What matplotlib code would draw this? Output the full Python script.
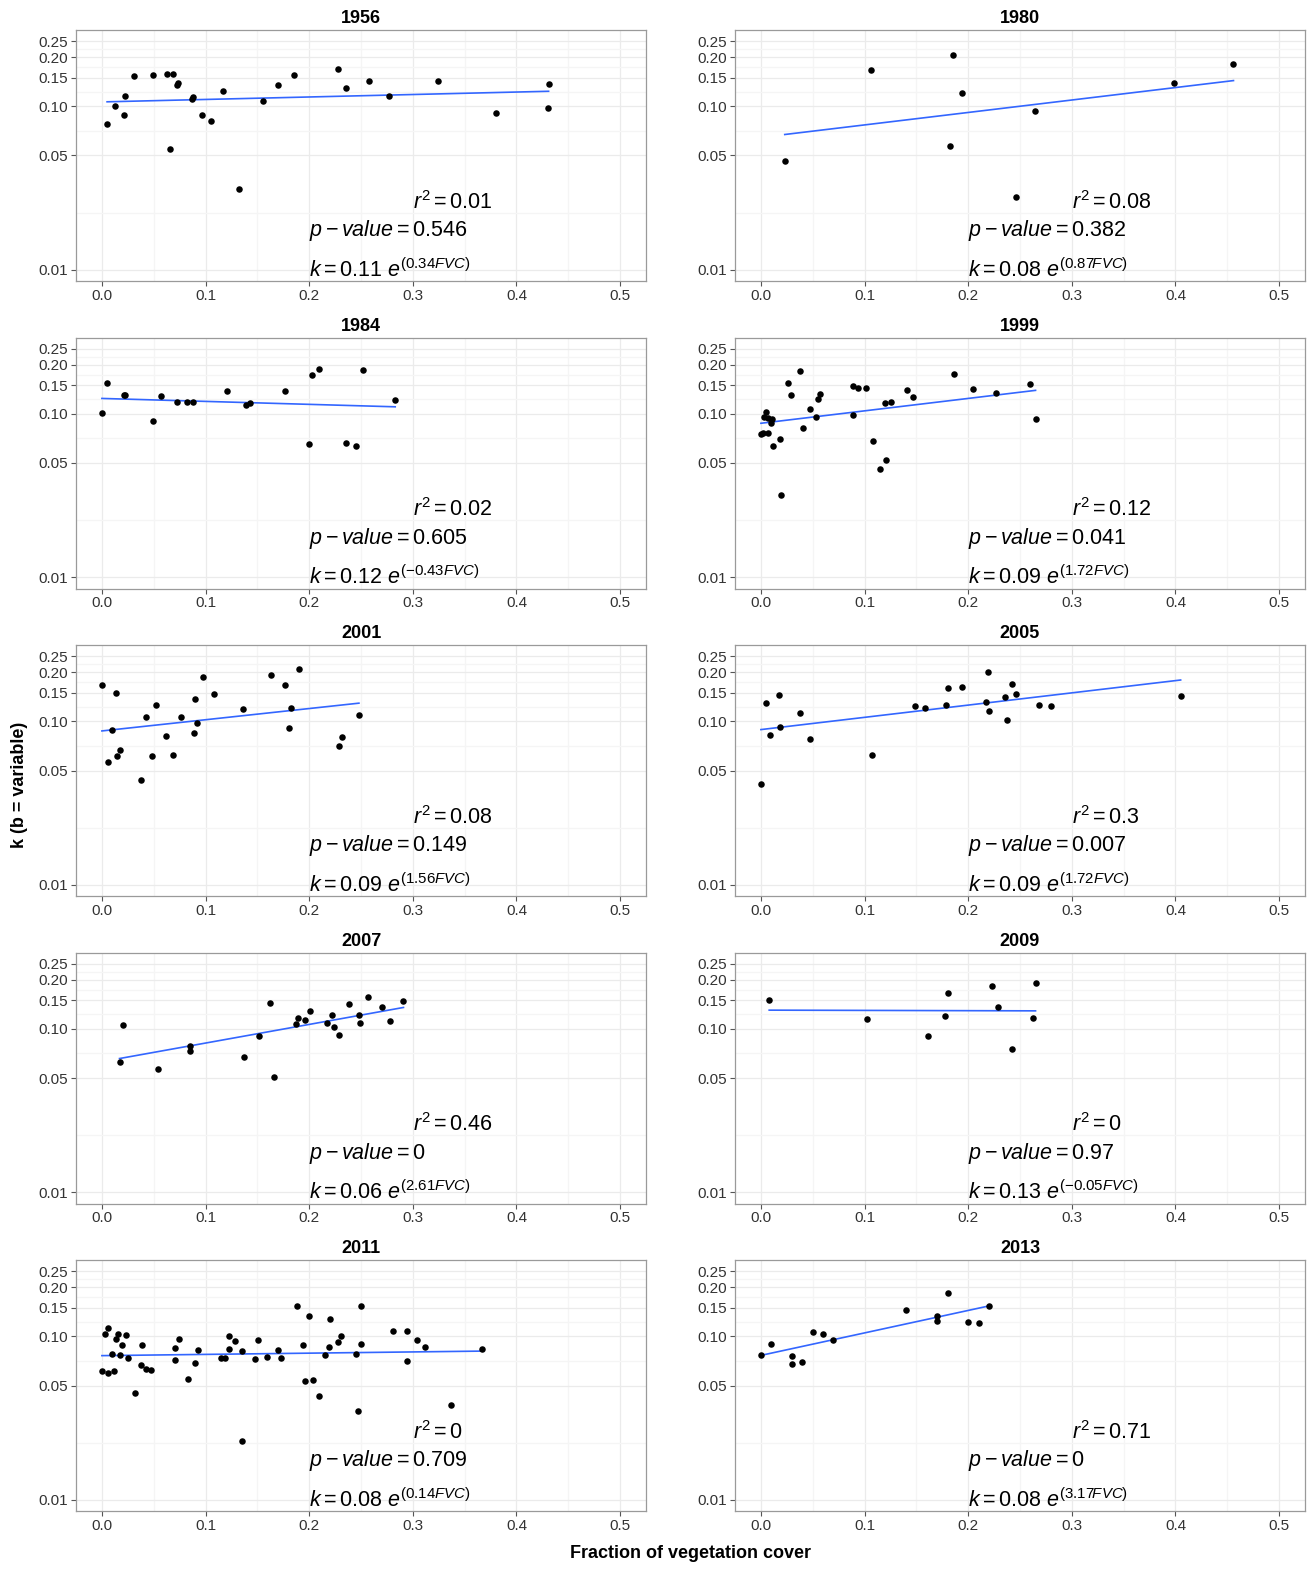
import numpy as np
import matplotlib
matplotlib.use("Agg")
import matplotlib.pyplot as plt
from matplotlib.ticker import FixedLocator, NullFormatter

plt.rcParams["font.family"] = ["Liberation Sans", "DejaVu Sans"]
plt.rcParams["mathtext.fontset"] = "custom"
plt.rcParams["mathtext.rm"] = "Liberation Sans"
plt.rcParams["mathtext.it"] = "Liberation Sans:italic"
plt.rcParams["mathtext.bf"] = "Liberation Sans:bold"

# ---- data ----
years = ["1956", "1980", "1984", "1999", "2001", "2005", "2007", "2009", "2011", "2013"]

fvc_1956 = [0.005, 0.013, 0.021, 0.022, 0.031, 0.049, 0.063, 0.066, 0.069, 0.072, 0.073, 0.087, 0.088,
            0.097, 0.105, 0.117, 0.132, 0.155, 0.170, 0.185, 0.228, 0.236, 0.258, 0.277, 0.324, 0.380,
            0.430, 0.431]
k_1956 = [0.078, 0.100, 0.088, 0.116, 0.153, 0.156, 0.157, 0.055, 0.157, 0.136, 0.139, 0.111, 0.114,
          0.088, 0.081, 0.125, 0.031, 0.108, 0.135, 0.155, 0.169, 0.130, 0.144, 0.116, 0.143, 0.091,
          0.098, 0.138]

fvc_1980 = [0.023, 0.106, 0.182, 0.185, 0.194, 0.246, 0.264, 0.399, 0.456]
k_1980 = [0.046, 0.167, 0.057, 0.205, 0.120, 0.028, 0.094, 0.139, 0.183]

fvc_1984 = [0.000, 0.0045, 0.021, 0.022, 0.049, 0.057, 0.072, 0.082, 0.088, 0.121, 0.139, 0.143,
            0.177, 0.200, 0.203, 0.209, 0.236, 0.245, 0.252, 0.283]
k_1984 = [0.101, 0.154, 0.131, 0.131, 0.090, 0.128, 0.119, 0.119, 0.119, 0.139, 0.114, 0.116,
          0.138, 0.065, 0.172, 0.187, 0.066, 0.064, 0.185, 0.122]

fvc_1999 = [0.000, 0.002, 0.007, 0.003, 0.005, 0.007, 0.010, 0.011, 0.012, 0.018, 0.019, 0.026,
            0.029, 0.038, 0.041, 0.047, 0.053, 0.055, 0.057, 0.089, 0.089, 0.094, 0.101, 0.108,
            0.115, 0.120, 0.121, 0.126, 0.141, 0.147, 0.186, 0.205, 0.227, 0.260, 0.265]
k_1999 = [0.075, 0.076, 0.076, 0.096, 0.103, 0.094, 0.088, 0.093, 0.064, 0.070, 0.032, 0.155,
          0.131, 0.182, 0.082, 0.107, 0.096, 0.124, 0.132, 0.148, 0.098, 0.144, 0.144, 0.068,
          0.046, 0.116, 0.052, 0.119, 0.140, 0.126, 0.176, 0.142, 0.135, 0.153, 0.093]

fvc_2001 = [0.000, 0.006, 0.010, 0.014, 0.015, 0.017, 0.038, 0.043, 0.048, 0.052, 0.062, 0.069,
            0.076, 0.089, 0.090, 0.092, 0.098, 0.108, 0.136, 0.163, 0.177, 0.181, 0.182, 0.190,
            0.229, 0.232, 0.248]
k_2001 = [0.167, 0.056, 0.089, 0.150, 0.061, 0.067, 0.044, 0.107, 0.061, 0.126, 0.081, 0.062,
          0.107, 0.085, 0.138, 0.098, 0.188, 0.148, 0.119, 0.193, 0.167, 0.091, 0.121, 0.210,
          0.071, 0.080, 0.110]

fvc_2005 = [0.000, 0.0045, 0.009, 0.017, 0.018, 0.038, 0.047, 0.107, 0.149, 0.158, 0.179, 0.181,
            0.194, 0.217, 0.219, 0.220, 0.236, 0.237, 0.242, 0.246, 0.268, 0.280, 0.405]
k_2005 = [0.0415, 0.129, 0.083, 0.146, 0.093, 0.112, 0.078, 0.062, 0.125, 0.120, 0.126, 0.159,
          0.163, 0.131, 0.200, 0.116, 0.141, 0.102, 0.170, 0.148, 0.126, 0.124, 0.143]

fvc_2007 = [0.017, 0.020, 0.054, 0.085, 0.085, 0.137, 0.152, 0.162, 0.166, 0.187, 0.189, 0.196,
            0.201, 0.217, 0.222, 0.224, 0.229, 0.238, 0.248, 0.249, 0.257, 0.270, 0.278, 0.291]
k_2007 = [0.063, 0.106, 0.057, 0.079, 0.073, 0.067, 0.091, 0.144, 0.051, 0.107, 0.116, 0.113,
          0.129, 0.109, 0.122, 0.102, 0.092, 0.143, 0.122, 0.108, 0.157, 0.136, 0.111, 0.148]

fvc_2009 = [0.008, 0.102, 0.161, 0.178, 0.181, 0.223, 0.229, 0.242, 0.263, 0.265]
k_2009 = [0.151, 0.115, 0.091, 0.120, 0.166, 0.183, 0.136, 0.075, 0.116, 0.192]

fvc_2011 = [0.000, 0.003, 0.006, 0.006, 0.010, 0.012, 0.014, 0.016, 0.017, 0.019, 0.023, 0.025,
            0.032, 0.038, 0.039, 0.043, 0.047, 0.071, 0.071, 0.074, 0.083, 0.090, 0.093, 0.115,
            0.119, 0.123, 0.123, 0.128, 0.135, 0.135, 0.148, 0.151, 0.159, 0.170, 0.173, 0.188,
            0.194, 0.196, 0.200, 0.204, 0.209, 0.215, 0.219, 0.220, 0.228, 0.231, 0.245, 0.247,
            0.250, 0.250, 0.281, 0.294, 0.294, 0.304, 0.312, 0.337, 0.367]
k_2011 = [0.061, 0.104, 0.060, 0.113, 0.078, 0.061, 0.097, 0.104, 0.077, 0.088, 0.102, 0.074,
          0.045, 0.067, 0.089, 0.063, 0.062, 0.085, 0.072, 0.097, 0.055, 0.069, 0.083, 0.074,
          0.074, 0.101, 0.084, 0.094, 0.081, 0.023, 0.073, 0.095, 0.075, 0.082, 0.074, 0.153,
          0.089, 0.053, 0.133, 0.054, 0.043, 0.077, 0.086, 0.127, 0.093, 0.100, 0.078, 0.035,
          0.153, 0.090, 0.108, 0.071, 0.108, 0.095, 0.086, 0.038, 0.084]

fvc_2013 = [0.000, 0.010, 0.030, 0.030, 0.040, 0.050, 0.060, 0.070, 0.140, 0.170, 0.170, 0.181,
            0.200, 0.210, 0.220]
k_2013 = [0.077, 0.090, 0.076, 0.068, 0.070, 0.107, 0.104, 0.095, 0.146, 0.133, 0.124, 0.185,
          0.123, 0.120, 0.154]

fvc_all = [fvc_1956, fvc_1980, fvc_1984, fvc_1999, fvc_2001, fvc_2005, fvc_2007, fvc_2009, fvc_2011, fvc_2013]
k_all = [k_1956, k_1980, k_1984, k_1999, k_2001, k_2005, k_2007, k_2009, k_2011, k_2013]

r2_txt = ["0.01", "0.08", "0.02", "0.12", "0.08", "0.3", "0.46", "0", "0", "0.71"]
p_txt = ["0.546", "0.382", "0.605", "0.041", "0.149", "0.007", "0", "0.97", "0.709", "0"]
a_txt = ["0.11", "0.08", "0.12", "0.09", "0.09", "0.09", "0.06", "0.13", "0.08", "0.08"]
b_txt = ["0.34", "0.87", "-0.43", "1.72", "1.56", "1.72", "2.61", "-0.05", "0.14", "3.17"]

x_ticks = [0.0, 0.1, 0.2, 0.3, 0.4, 0.5]
x_minor = [0.05, 0.15, 0.25, 0.35, 0.45]
y_ticks = [0.01, 0.05, 0.10, 0.15, 0.20, 0.25]

# ---- layout ----
W, H = 1310, 1571
fig = plt.figure(figsize=(W / 100, H / 100), dpi=100)

col_left = [76, 735]
ax_w, ax_h = 570, 251
row_step = 307.5

# y limits: 0.01..0.25 on log10 scale, expanded by 5% (ggplot default)
ylo, yhi = 10 ** (-2 - 0.05 * np.log10(25)), 10 ** (np.log10(0.25) + 0.05 * np.log10(25))
y_minor = [np.sqrt(a * b) for a, b in zip(y_ticks[:-1], y_ticks[1:])]

for i, year in enumerate(years):
    r, c = divmod(i, 2)
    top = 30 + row_step * r
    ax = fig.add_axes([col_left[c] / W, 1 - (top + ax_h) / H, ax_w / W, ax_h / H])

    x = np.array(fvc_all[i])
    y = np.array(k_all[i])

    ax.set_yscale("log")
    ax.set_xlim(-0.025, 0.525)
    ax.set_ylim(ylo, yhi)

    ax.xaxis.set_major_locator(FixedLocator(x_ticks))
    ax.xaxis.set_minor_locator(FixedLocator(x_minor))
    ax.set_xticklabels([f"{t:.1f}" for t in x_ticks])
    ax.yaxis.set_major_locator(FixedLocator(y_ticks))
    ax.yaxis.set_minor_locator(FixedLocator(y_minor))
    ax.yaxis.set_minor_formatter(NullFormatter())
    ax.set_yticklabels([f"{t:.2f}" for t in y_ticks])

    ax.grid(True, which="major", color="#EBEBEB", linewidth=0.9, zorder=0)
    ax.grid(True, which="minor", color="#F5F5F5", linewidth=0.9, zorder=0)
    ax.set_axisbelow(True)
    ax.tick_params(which="major", length=3.5, width=0.8, color="#555555",
                   labelsize=11, labelcolor="#333333", pad=2)
    ax.tick_params(which="minor", length=0)
    for s in ax.spines.values():
        s.set_color("#9A9A9A")
        s.set_linewidth(0.9)

    ax.scatter(x, y, s=22, color="black", zorder=3, linewidths=0)

    # log-linear fit, as geom_smooth(method = "lm") on the log scale
    b, a = np.polyfit(x, np.log10(y), 1)
    xs = np.linspace(x.min(), x.max(), 50)
    ax.plot(xs, 10 ** (a + b * xs), color="#3366FF", linewidth=1.2, zorder=2)

    ax.text(0.3, 0.0236, rf"$r^2 = {r2_txt[i]}$", fontsize=15.5, ha="left", va="baseline")
    ax.text(0.2, 0.0160, rf"$p - value = {p_txt[i]}$", fontsize=15.5, ha="left", va="baseline")
    ax.text(0.2, 0.00906, rf"$k = {a_txt[i]}\ e^{{({b_txt[i]} FVC)}}$", fontsize=15.5,
            ha="left", va="baseline")

    ax.set_title(year, fontsize=13, fontweight="bold", pad=5)

fig.text(690 / W, 1 - 1553 / H, "Fraction of vegetation cover", fontsize=13,
         fontweight="bold", ha="center", va="center")
fig.text(20 / W, 1 - 785 / H, "k (b = variable)", fontsize=13, fontweight="bold",
         rotation=90, ha="center", va="center")

fig.savefig("out.png", dpi=100)
